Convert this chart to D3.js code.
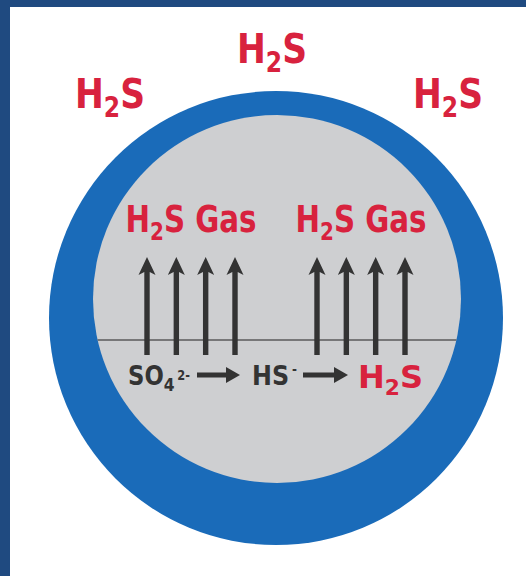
<!DOCTYPE html>
<html>
<head>
<meta charset="utf-8">
<script src="https://cdn.jsdelivr.net/npm/d3@7"></script>
<style>
  html, body { margin: 0; padding: 0; background: #ffffff; }
  svg { display: block; }
</style>
</head>
<body>
<script>
// labels and groups
var outerLabels = ["H2S", "H2S", "H2S"];
var gasLabels = ["H2S Gas", "H2S Gas"];
var arrowsPerGroup = [4, 4];
var reaction = ["SO4", "HS", "H2S"];
var reactionCharges = ["2-", "-", ""];

var width = 526, height = 576;
var font = "'DejaVu Sans Condensed', 'Liberation Sans Narrow', 'DejaVu Sans', sans-serif";
var red = "#d8223e", dark = "#333333";

var svg = d3.select("body").append("svg")
    .attr("width", width)
    .attr("height", height);

// navy frame on top and left
svg.append("rect").attr("x", 0).attr("y", 0).attr("width", width).attr("height", height).attr("fill", "#1f4a80");
svg.append("rect").attr("x", 10).attr("y", 7).attr("width", width - 10).attr("height", height - 7).attr("fill", "#ffffff");

// cell: blue wall and grey interior
var outer = {cx: 276, cy: 318, r: 227};
var inner = {cx: 277, cy: 299, r: 184};

svg.append("circle")
    .attr("cx", outer.cx).attr("cy", outer.cy).attr("r", outer.r)
    .attr("fill", "#1a6bb9");
svg.append("circle")
    .attr("cx", inner.cx).attr("cy", inner.cy).attr("r", inner.r)
    .attr("fill", "#cecfd1");

svg.append("clipPath").attr("id", "innerClip")
  .append("circle")
    .attr("cx", inner.cx).attr("cy", inner.cy).attr("r", inner.r);

// water line
svg.append("line")
    .attr("clip-path", "url(#innerClip)")
    .attr("x1", inner.cx - inner.r).attr("x2", inner.cx + inner.r)
    .attr("y1", 340).attr("y2", 340)
    .attr("stroke", "#5a5a5a")
    .attr("stroke-width", 1.6);

// helper: write a formula with sub/superscripts
var writeFormula = function(sel, txt, charge, size) {
  var m = txt.match(/^([A-Za-z]+?)(\d?)([A-Za-z]*)$/);
  sel.append("tspan").text(m[1]);
  if (m[2]) {
    sel.append("tspan").attr("font-size", size * 0.68).attr("dy", size * 0.22).text(m[2]);
    sel.append("tspan").attr("dy", -size * 0.22).text(m[3]);
  } else if (m[3]) {
    sel.append("tspan").text(m[3]);
  }
  if (charge) {
    sel.append("tspan").attr("font-size", size * 0.5).attr("dy", -size * 0.42).attr("dx", 3).text(charge);
  }
};

// outer H2S labels, left / top / right of the cell
var outerX = d3.scaleOrdinal().domain(d3.range(3)).range([110, 272, 448]);
var outerY = d3.scaleOrdinal().domain(d3.range(3)).range([108, 63, 108]);
var outerSize = 41;
svg.selectAll("text.outer")
  .data(outerLabels)
  .enter()
  .append("text")
    .classed("outer", true)
    .attr("x", function(d, i){ return outerX(i); })
    .attr("y", function(d, i){ return outerY(i); })
    .attr("text-anchor", "middle")
    .attr("textLength", 70)
    .attr("lengthAdjust", "spacingAndGlyphs")
    .attr("font-family", font)
    .attr("font-weight", "bold")
    .attr("font-size", outerSize)
    .attr("fill", red)
    .each(function(d){ writeFormula(d3.select(this), d, "", outerSize); });

// arrow groups: centres by a point scale, arrows inside by a linear scale
var groupScale = d3.scalePoint().domain(d3.range(gasLabels.length)).range([191, 361]);
var arrowY = d3.scaleLinear().domain([0, 1]).range([355, 257]);
var gasSize = 37;

var groups = svg.selectAll("g.group")
  .data(gasLabels)
  .enter()
  .append("g")
    .classed("group", true)
    .attr("transform", function(d, i){ return "translate(" + groupScale(i) + ",0)"; });

groups.append("text")
    .attr("x", 0)
    .attr("y", 232)
    .attr("text-anchor", "middle")
    .attr("textLength", 131)
    .attr("lengthAdjust", "spacingAndGlyphs")
    .attr("font-family", font)
    .attr("font-weight", "bold")
    .attr("font-size", gasSize)
    .attr("fill", red)
    .each(function(d){
      var t = d3.select(this);
      writeFormula(t, d.split(" ")[0], "", gasSize);
      t.append("tspan").text(" " + d.split(" ")[1]);
    });

groups.each(function(d, gi) {
  var n = arrowsPerGroup[gi];
  var ax = d3.scaleLinear().domain([0, n - 1]).range([-44, 44]);
  d3.select(this).selectAll("path.arrow")
    .data(d3.range(n))
    .enter()
    .append("path")
      .classed("arrow", true)
      .attr("fill", dark)
      .attr("d", function(k) {
        var x = ax(k), top = arrowY(1), bot = arrowY(0), hw = 8.5, hh = 18, sw = 2.7;
        return "M" + x + "," + top +
               "L" + (x + hw) + "," + (top + hh) +
               "L" + (x + sw) + "," + (top + hh - 3) +
               "L" + (x + sw) + "," + bot +
               "L" + (x - sw) + "," + bot +
               "L" + (x - sw) + "," + (top + hh - 3) +
               "L" + (x - hw) + "," + (top + hh) + "Z";
      });
});

// reaction line SO4(2-) -> HS(-) -> H2S
var rxX = d3.scaleOrdinal().domain(reaction).range([128, 252, 358]);
var rxW = d3.scaleOrdinal().domain(reaction).range([62, 45, 65]);
var rxSize = [27, 27, 32];
svg.selectAll("text.rx")
  .data(reaction)
  .enter()
  .append("text")
    .classed("rx", true)
    .attr("x", function(d){ return rxX(d); })
    .attr("y", function(d, i){ return i === 2 ? 388 : 385; })
    .attr("textLength", function(d){ return rxW(d); })
    .attr("lengthAdjust", "spacingAndGlyphs")
    .attr("font-family", font)
    .attr("font-weight", "bold")
    .attr("font-size", function(d, i){ return rxSize[i]; })
    .attr("fill", function(d, i){ return i === 2 ? red : dark; })
    .each(function(d, i){ writeFormula(d3.select(this), d, reactionCharges[i], rxSize[i]); });

// small reaction arrows between the species
var rxArrows = [[197, 240], [303, 348]];
svg.selectAll("path.rxarrow")
  .data(rxArrows)
  .enter()
  .append("path")
    .classed("rxarrow", true)
    .attr("fill", dark)
    .attr("d", function(d) {
      var y = 375, x0 = d[0], x1 = d[1];
      return "M" + x0 + "," + (y - 2.5) + "L" + (x1 - 14) + "," + (y - 2.5) +
             "L" + (x1 - 14) + "," + (y - 8) + "L" + x1 + "," + y +
             "L" + (x1 - 14) + "," + (y + 8) + "L" + (x1 - 14) + "," + (y + 2.5) +
             "L" + x0 + "," + (y + 2.5) + "Z";
    });
</script>
</body>
</html>
